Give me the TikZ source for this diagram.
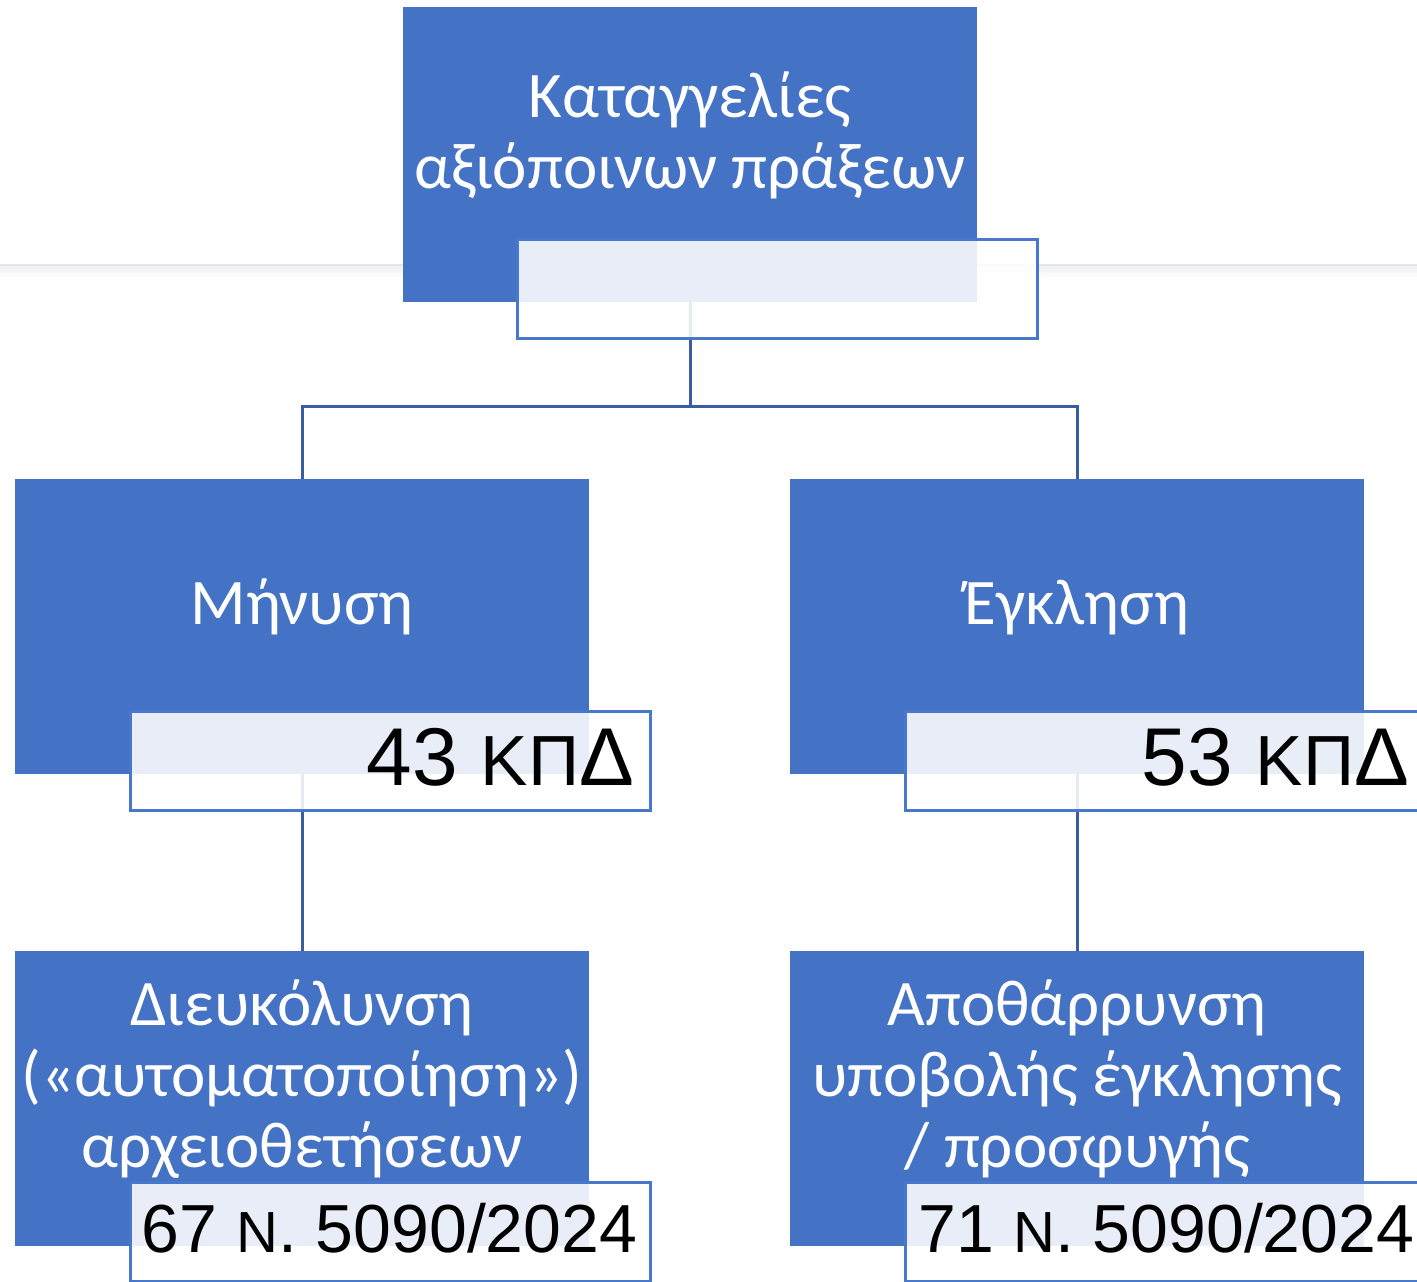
\documentclass[tikz,border=0pt]{standalone}
\usepackage{fontspec}
\setmainfont{Carlito}
\newfontfamily\arialf{Liberation Sans}
\definecolor{boxblue}{RGB}{68,114,196}
\definecolor{linkblue}{RGB}{56,93,163}
\definecolor{tagedge}{RGB}{72,120,204}
\definecolor{rulegray}{RGB}{226,229,238}
\tikzset{
  mainbox/.style={fill=boxblue, draw=none, minimum width=574pt, minimum height=295pt, inner sep=0pt, anchor=north west},
  tagbox/.style={draw=tagedge, line width=2.5pt, fill=white, fill opacity=0.88, minimum width=520pt, minimum height=99pt, inner sep=0pt, anchor=north west},
  maintext/.style={text=white, align=center, inner sep=0pt, anchor=base, font=\fontsize{65}{71}\selectfont},
  tagtext/.style={text=black, inner sep=0pt, anchor=base east, font=\arialf\fontsize{82}{82}\selectfont},
  tagtextsmall/.style={tagtext, font=\arialf\fontsize{68}{68}\selectfont},
  link/.style={draw=linkblue, line width=2.6pt}
}
\begin{document}
\begin{tikzpicture}[x=1pt,y=-1pt]
\useasboundingbox (0,0) rectangle (1417,1282);
\clip (0,0) rectangle (1417,1282);
% faint background rule
\shade[top color=black!6, bottom color=white] (0,266) rectangle (1417,278);
\draw[rulegray, line width=2pt] (0,265) -- (1417,265);
% main boxes
\node[mainbox] (top) at (403,7) {};
\node[mainbox] (m1) at (15,479) {};
\node[mainbox] (m2) at (790,479) {};
\node[mainbox] (b1) at (15,951) {};
\node[mainbox] (b2) at (790,951) {};
% main texts (anchor base = baseline of last line)
\node[maintext] (t0) at (690,188) {Καταγγελίες\\αξιόποινων πράξεων};
\node[maintext] (t1) at (302,624) {Μήνυση};
\node[maintext] (t2) at (1077,624) {Έγκληση};
\node[maintext] (t3) at (302,1167) {Διευκόλυνση\\(«αυτοματοποίηση»)\\αρχειοθετήσεων};
\node[maintext] (t4) at (1077,1167) {Αποθάρρυνση\\υποβολής έγκλησης\\/ προσφυγής};
% connectors
\draw[link] (top.south) -- ++(0,104) -| (m1.north);
\draw[link] (top.south) -- ++(0,104) -| (m2.north);
\draw[link] (m1.south) -- (b1.north);
\draw[link] (m2.south) -- (b2.north);
% tag boxes
\node[tagbox] (g0) at (516,238) {};
\node[tagbox] (g1) at (129,710) {};
\node[tagbox] (g2) at (904,710) {};
\node[tagbox] (g3) at (129,1181) {};
\node[tagbox] (g4) at (904,1181) {};
% tag texts
\node[tagtext] (l1) at ([xshift=-17pt,yshift=26pt]g1.south east) {43 {\fontsize{71}{71}\selectfont ΚΠ}Δ};
\node[tagtext] (l2) at ([xshift=-17pt,yshift=26pt]g2.south east) {53 {\fontsize{71}{71}\selectfont ΚΠ}Δ};
\node[tagtextsmall] (l3) at ([xshift=-14pt,yshift=30pt]g3.south east) {67 {\fontsize{58}{58}\selectfont Ν}. 5090/2024};
\node[tagtextsmall] (l4) at ([xshift=-12pt,yshift=30pt]g4.south east) {71 {\fontsize{58}{58}\selectfont Ν}. 5090/2024};
\end{tikzpicture}
\end{document}
